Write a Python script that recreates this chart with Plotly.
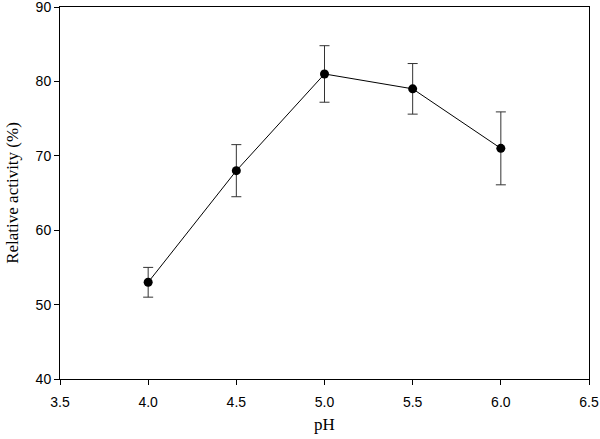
import plotly.graph_objects as go

ph = [4.0, 4.5, 5.0, 5.5, 6.0]
activity = [53.0, 68.0, 81.0, 79.0, 71.0]
err = [2.0, 3.5, 3.8, 3.4, 4.9]
x_ticks = [3.5, 4.0, 4.5, 5.0, 5.5, 6.0, 6.5]
y_ticks = [40, 50, 60, 70, 80, 90]

fig = go.Figure()
fig.add_trace(go.Scatter(
    x=ph, y=activity, mode="lines+markers",
    line=dict(color="black", width=1),
    marker=dict(color="black", size=9),
    error_y=dict(type="data", array=err, visible=True, color="#333333", thickness=1, width=5),
    showlegend=False,
))

fig.update_layout(
    width=600, height=439,
    margin=dict(l=60, r=11, t=7, b=60),
    plot_bgcolor="white", paper_bgcolor="white",
)
fig.update_xaxes(
    range=[3.5, 6.5], tickvals=x_ticks, ticktext=[f"{v:.1f}" for v in x_ticks],
    showgrid=False, zeroline=False, showline=True, linecolor="black", linewidth=1, mirror=True,
    ticks="outside", ticklen=5, tickcolor="black", automargin=False, ticklabeloverflow="allow",
    ticklabelstandoff=5,
    tickfont=dict(family="Liberation Sans, Arial", size=14, color="black"),
    title=dict(text="pH", font=dict(family="Liberation Serif, Times New Roman", size=17, color="black"), standoff=9),
)
fig.update_yaxes(
    range=[40, 90], tickvals=y_ticks,
    showgrid=False, zeroline=False, showline=True, linecolor="black", linewidth=1, mirror=True,
    ticks="outside", ticklen=5, tickcolor="black", automargin=False, ticklabeloverflow="allow",
    tickfont=dict(family="Liberation Sans, Arial", size=14, color="black"),
    title=dict(text="Relative activity (%)", font=dict(family="Liberation Serif, Times New Roman", size=17, color="black"), standoff=12),
)

fig.write_html("out.html", config={"displayModeBar": False},
               post_script="document.body.style.margin='0';document.body.style.overflow='hidden';")
